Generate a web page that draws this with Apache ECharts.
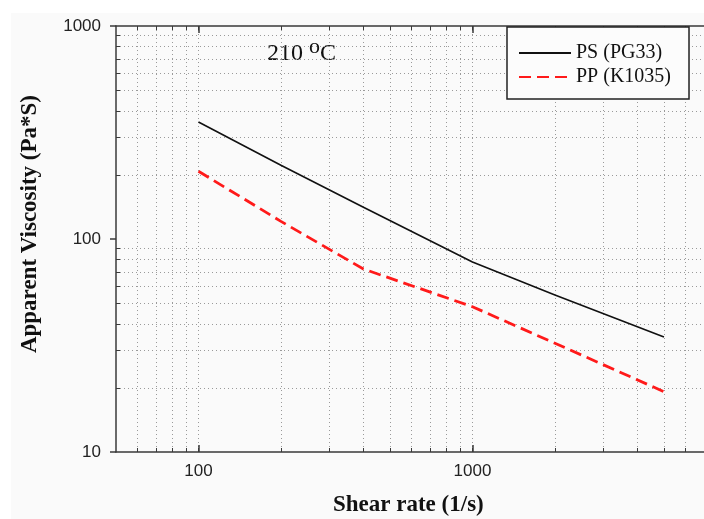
<!DOCTYPE html>
<html>
<head>
<meta charset="utf-8">
<script src="https://cdn.jsdelivr.net/npm/echarts@6/dist/echarts.min.js"></script>
<style>html,body{margin:0;padding:0;background:#fff}#c{width:704px;height:519px}</style>
</head>
<body>
<div id="c"></div>
<script>
// ---- data ----
const shearRates = [100, 200, 400, 1000, 2000, 5000];
const psValues = [354, 222, 141, 78, 54.6, 34.7];
const ppValues = [208, 121, 72.3, 48.1, 32.4, 19.2];
const seriesNames = ['PS (PG33)', 'PP (K1035)'];
const xMajorTicks = [100, 1000];
const xMinorTicks = [60, 70, 80, 90, 200, 300, 400, 500, 600, 700, 800, 900, 2000, 3000, 4000, 5000, 6000];
const yMajorTicks = [10, 100, 1000];
const yMinorTicks = [20, 30, 40, 50, 60, 70, 80, 90, 200, 300, 400, 500, 600, 700, 800, 900];

const xAll = xMinorTicks.concat(xMajorTicks).sort((a, b) => a - b);

const gridRect = { left: 116, top: 26, width: 592, height: 426 };
const axisColor = '#3a3a3a';
const gridLine = { show: true, lineStyle: { color: '#9a9a9a', width: 1, type: [1, 3] } };
const plainNum = v => String(Math.round(v));

const chart = echarts.init(document.getElementById('c'));
chart.setOption({
  backgroundColor: '#ffffff',
  animation: false,
  graphic: [
    { type: 'rect', left: 11, top: 13, shape: { width: 700, height: 510 }, style: { fill: '#fafafa' }, z: -10, silent: true },
    { type: 'text', left: 19, top: 95, rotation: Math.PI / 2, style: { text: 'Apparent Viscosity (Pa*S)', font: 'bold 23px "Liberation Serif"', fill: '#111' } },
    { type: 'text', left: 333, top: 494, style: { text: 'Shear rate (1/s)', font: 'bold 23px "Liberation Serif"', fill: '#111' } },
    { type: 'text', left: 267, top: 36, style: {
        text: '{n|210 }{s|o}{n|C}',
        rich: {
          n: { fontFamily: 'Liberation Serif', fontSize: 24, fill: '#111', verticalAlign: 'bottom', lineHeight: 30 },
          s: { fontFamily: 'Liberation Serif', fontSize: 22, fill: '#111', verticalAlign: 'top', lineHeight: 30, padding: [0, 0, 12, 0] }
        } } }
  ],
  grid: [
    Object.assign({}, gridRect),
    Object.assign({}, gridRect)
  ],
  legend: {
    orient: 'vertical',
    left: 507, top: 27,
    padding: [16, 18, 12, 11],
    itemWidth: 52, itemHeight: 14, itemGap: 4, itemTextGap: 12,
    backgroundColor: '#fcfcfc',
    borderColor: '#222', borderWidth: 1.5, borderRadius: 0,
    itemStyle: { color: 'rgba(0,0,0,0)', borderWidth: 0, opacity: 0 },
    textStyle: { fontFamily: 'Liberation Serif', fontSize: 20, color: '#111' },
    data: seriesNames
  },
  xAxis: [
    {
      type: 'log', gridIndex: 0, position: 'bottom', min: 50, max: 7000,
      axisLine: { show: true, lineStyle: { color: axisColor, width: 1.5 } },
      axisTick: { show: true, inside: true, length: 4, customValues: xAll, lineStyle: { color: axisColor, width: 1 } },
      axisLabel: { show: true, customValues: xMajorTicks, formatter: plainNum, margin: 11, fontFamily: 'Liberation Sans', fontSize: 17, color: '#222' },
      splitLine: gridLine, minorTick: { show: false }
    },
    {
      type: 'log', gridIndex: 0, position: 'top', min: 50, max: 7000,
      axisLine: { show: true, lineStyle: { color: axisColor, width: 1.5 } },
      axisTick: { show: true, inside: true, length: 4, customValues: xAll, lineStyle: { color: axisColor, width: 1 } },
      axisLabel: { show: false }, splitLine: { show: false }
    },
    {
      type: 'log', gridIndex: 1, position: 'bottom', min: 50, max: 7000,
      axisLine: { show: false },
      axisTick: { show: true, inside: true, length: 7, customValues: xMajorTicks, lineStyle: { color: axisColor, width: 1.5 } },
      axisLabel: { show: false }, splitLine: { show: false }
    },
    {
      type: 'log', gridIndex: 1, position: 'top', min: 50, max: 7000,
      axisLine: { show: false },
      axisTick: { show: true, inside: true, length: 7, customValues: xMajorTicks, lineStyle: { color: axisColor, width: 1.5 } },
      axisLabel: { show: false }, splitLine: { show: false }
    }
  ],
  yAxis: [
    {
      type: 'log', gridIndex: 0, position: 'left', min: 10, max: 1000,
      axisLine: { show: true, lineStyle: { color: axisColor, width: 1.5 } },
      axisTick: { show: true, inside: true, length: 4, customValues: yMinorTicks, lineStyle: { color: axisColor, width: 1 } },
      axisLabel: { show: true, customValues: yMajorTicks, formatter: plainNum, margin: 15, fontFamily: 'Liberation Sans', fontSize: 17, color: '#222' },
      splitLine: gridLine, minorTick: { show: false }
    },
    {
      type: 'log', gridIndex: 1, position: 'left', min: 10, max: 1000,
      axisLine: { show: false },
      axisTick: { show: true, inside: false, length: 6, customValues: yMajorTicks, lineStyle: { color: axisColor, width: 1.5 } },
      axisLabel: { show: false }, splitLine: { show: false }
    }
  ],
  series: [
    {
      name: seriesNames[0], type: 'line', xAxisIndex: 0, yAxisIndex: 0,
      symbol: 'none', showSymbol: false,
      lineStyle: { color: '#111', width: 1.6, type: 'solid' },
      itemStyle: { color: '#111' },
      data: shearRates.map((x, i) => [x, psValues[i]])
    },
    {
      name: seriesNames[1], type: 'line', xAxisIndex: 0, yAxisIndex: 0,
      symbol: 'none', showSymbol: false,
      lineStyle: { color: '#ff1a1a', width: 2.8, type: [12, 6] },
      itemStyle: { color: '#ff1a1a' },
      data: shearRates.map((x, i) => [x, ppValues[i]])
    }
  ]
});
</script>
</body>
</html>
